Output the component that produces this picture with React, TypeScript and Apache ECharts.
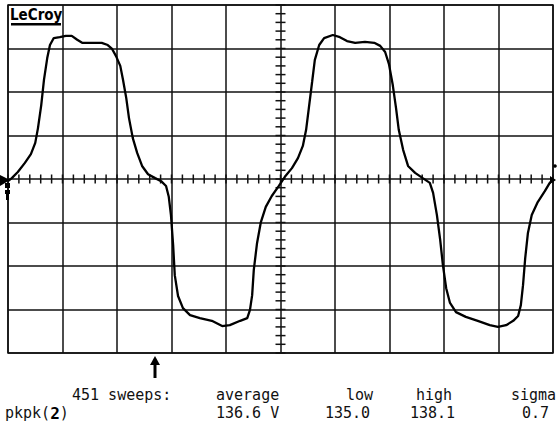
import React, { useEffect, useRef } from "react";
import * as echarts from "echarts";

// Axis extents (in screen divisions)
const X_DIVS = [0, 10];
const Y_DIVS = [-4, 4];
const MINOR_STEP = 0.2;

// Averaged trace: [time div, volts div]
const traceX = [
  0.0, 0.07, 0.18, 0.31, 0.42, 0.5, 0.55, 0.61, 0.66, 0.72, 0.77, 0.84, 0.95, 1.06, 1.17, 1.27, 1.36, 1.54, 1.72,
  1.83, 1.91, 1.98, 2.06, 2.11, 2.17, 2.22, 2.29, 2.37, 2.46, 2.57, 2.7, 2.81, 2.9, 2.95, 2.99, 3.03, 3.06, 3.12,
  3.21, 3.34, 3.52, 3.74, 3.93, 4.07, 4.26, 4.39, 4.44, 4.48, 4.51, 4.57, 4.64, 4.73, 4.84, 4.97, 5.08, 5.21, 5.32,
  5.41, 5.47, 5.52, 5.58, 5.63, 5.71, 5.8, 5.96, 6.09, 6.22, 6.37, 6.55, 6.72, 6.83, 6.92, 6.99, 7.06, 7.12, 7.17,
  7.25, 7.34, 7.47, 7.61, 7.74, 7.8, 7.87, 7.93, 7.98, 8.04, 8.11, 8.22, 8.4, 8.62, 8.84, 8.99, 9.14, 9.27, 9.36,
  9.41, 9.45, 9.49, 9.54, 9.61, 9.72, 9.85, 9.94, 10.0,
];
const traceY = [
  -0.05, 0.02, 0.16, 0.37, 0.57, 0.83, 1.17, 1.7, 2.28, 2.78, 3.08, 3.24, 3.26, 3.29, 3.29, 3.2, 3.13, 3.13, 3.13,
  3.08, 2.99, 2.83, 2.6, 2.28, 1.86, 1.4, 0.94, 0.6, 0.3, 0.11, 0.02, -0.05, -0.16, -0.41, -0.83, -1.52, -2.21, -2.69,
  -2.97, -3.13, -3.2, -3.26, -3.38, -3.36, -3.26, -3.2, -3.01, -2.67, -2.09, -1.47, -0.99, -0.64, -0.39, -0.16, 0.05,
  0.25, 0.48, 0.76, 1.13, 1.63, 2.23, 2.74, 3.08, 3.24, 3.31, 3.26, 3.17, 3.13, 3.15, 3.13, 3.06, 2.92, 2.64, 2.16,
  1.63, 1.13, 0.67, 0.3, 0.14, 0.02, -0.09, -0.32, -0.83, -1.4, -1.98, -2.51, -2.85, -3.06, -3.17, -3.26, -3.36, -3.4,
  -3.36, -3.26, -3.15, -2.9, -2.44, -1.82, -1.24, -0.83, -0.53, -0.28, -0.09, 0.0,
];

// Readout texts
const headerWords = ["451 sweeps:", "average", "low", "high", "sigma"];
const valueWords = ["136.6 V", "135.0", "138.1", "0.7"];
const paramName = "pkpk";
const paramChannel = "2";

const FONT = "DejaVu Sans Mono";

export default function App() {
  const ref = useRef<HTMLDivElement>(null);

  useEffect(() => {
    if (!ref.current) return;
    const chart = echarts.init(ref.current, null, { renderer: "svg" });

    const traceData = traceX.map((x, i) => [x, traceY[i]]);
    const xTicks: number[][] = [];
    for (let i = 0; i <= Math.round((X_DIVS[1] - X_DIVS[0]) / MINOR_STEP); i++) {
      xTicks.push([+(X_DIVS[0] + i * MINOR_STEP).toFixed(2), 0]);
    }
    const yTicks: number[][] = [];
    for (let i = 0; i <= Math.round((Y_DIVS[1] - Y_DIVS[0]) / MINOR_STEP); i++) {
      yTicks.push([5, +(Y_DIVS[0] + i * MINOR_STEP).toFixed(2)]);
    }

    const gridLine = { show: true, lineStyle: { color: "#111", width: 1.5 } };

    const textBase = (text: string, x: number, y: number) => ({
      type: "text",
      style: {
        text,
        x,
        y,
        fill: "#111",
        font: `15px "${FONT}"`,
        textAlign: "left",
        align: "left",
        textVerticalAlign: "middle",
        verticalAlign: "middle",
      },
    });

    chart.setOption({
      animation: false,
      backgroundColor: "#fff",
      grid: {
        left: 8,
        top: 5,
        width: 545,
        height: 348,
        show: true,
        borderColor: "#111",
        borderWidth: 1.5,
        backgroundColor: "transparent",
      },
      xAxis: {
        type: "value",
        min: X_DIVS[0],
        max: X_DIVS[1],
        interval: 1,
        axisLine: { show: false },
        axisTick: { show: false },
        axisLabel: { show: false },
        splitLine: gridLine,
      },
      yAxis: {
        type: "value",
        min: Y_DIVS[0],
        max: Y_DIVS[1],
        interval: 1,
        axisLine: { show: false },
        axisTick: { show: false },
        axisLabel: { show: false },
        splitLine: gridLine,
      },
      series: [
        {
          type: "custom",
          silent: true,
          data: xTicks,
          renderItem: (_p: any, api: any) => {
            const pt = api.coord([api.value(0), api.value(1)]);
            return {
              type: "line",
              shape: { x1: pt[0], y1: pt[1] - 4.5, x2: pt[0], y2: pt[1] + 4.5 },
              style: { stroke: "#111", lineWidth: 1.5 },
            };
          },
        },
        {
          type: "custom",
          silent: true,
          data: yTicks,
          renderItem: (_p: any, api: any) => {
            const pt = api.coord([api.value(0), api.value(1)]);
            return {
              type: "line",
              shape: { x1: pt[0] - 5, y1: pt[1], x2: pt[0] + 5, y2: pt[1] },
              style: { stroke: "#111", lineWidth: 1.5 },
            };
          },
        },
        {
          type: "line",
          data: traceData,
          showSymbol: false,
          symbol: "none",
          silent: true,
          lineStyle: { color: "#000", width: 2.3 },
          z: 5,
        },
      ],
      graphic: [
        // LeCroy logo
        {
          type: "rect",
          shape: { x: 9, y: 6, width: 53, height: 21 },
          style: { fill: "#fff" },
          z: 10,
        },
        {
          type: "text",
          z: 11,
          style: {
            text: "LeCroy",
            x: 10,
            y: 15,
            fill: "#000",
            font: 'bold 15px "DejaVu Sans Condensed"',
            textAlign: "left",
            align: "left",
            textVerticalAlign: "middle",
            verticalAlign: "middle",
          },
        },
        {
          type: "rect",
          z: 11,
          shape: { x: 11, y: 23, width: 50, height: 2.5 },
          style: { fill: "#000" },
        },
        // Ground / trace markers
        { type: "polygon", z: 12, shape: { points: [[0, 175], [10, 180], [0, 186]] }, style: { fill: "#000" } },
        { type: "rect", z: 12, shape: { x: 5, y: 183, width: 5, height: 5 }, style: { fill: "#000" } },
        { type: "rect", z: 12, shape: { x: 5, y: 190, width: 5, height: 4 }, style: { fill: "#000" } },
        { type: "rect", z: 12, shape: { x: 6, y: 194, width: 3, height: 6 }, style: { fill: "#000" } },
        { type: "polygon", z: 12, shape: { points: [[550, 176], [556, 180], [550, 184]] }, style: { fill: "#000" } },
        { type: "circle", z: 12, shape: { cx: 555, cy: 166, r: 1.8 }, style: { fill: "#000" } },
        // Trigger arrow
        { type: "polygon", z: 12, shape: { points: [[155, 356], [150, 365], [160, 365]] }, style: { fill: "#000" } },
        { type: "rect", z: 12, shape: { x: 153.5, y: 364, width: 3, height: 14 }, style: { fill: "#000" } },
        // Readout line 1
        textBase(headerWords[0], 72, 395),
        textBase(headerWords[1], 216, 395),
        textBase(headerWords[2], 346, 395),
        textBase(headerWords[3], 416, 395),
        textBase(headerWords[4], 511, 395),
        // Readout line 2
        {
          type: "text",
          style: {
            text: `{a|${paramName}(}{b|${paramChannel}}{a|)}`,
            x: 5,
            y: 413,
            textAlign: "left",
            align: "left",
            textVerticalAlign: "middle",
            verticalAlign: "middle",
            rich: {
              a: { fill: "#111", color: "#111", font: `15px "${FONT}"`, fontFamily: FONT, fontSize: 15 },
              b: {
                fill: "#000",
                color: "#000",
                font: `bold 16px "${FONT}"`,
                fontFamily: FONT,
                fontSize: 16,
                fontWeight: "bold",
              },
            },
          },
        },
        textBase(valueWords[0], 216, 413),
        textBase(valueWords[1], 325, 413),
        textBase(valueWords[2], 410, 413),
        textBase(valueWords[3], 522, 413),
      ],
    });

    return () => chart.dispose();
  }, []);

  return (
    <div
      ref={ref}
      style={{ position: "absolute", left: 0, top: 0, width: 557, height: 427, background: "#fff" }}
    />
  );
}
